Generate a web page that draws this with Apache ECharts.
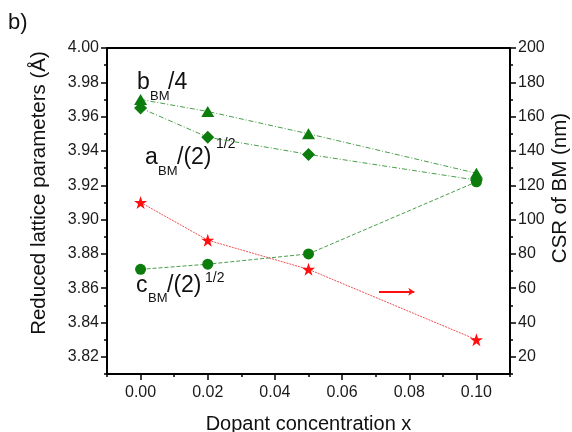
<!DOCTYPE html>
<html>
<head>
<meta charset="utf-8">
<script src="https://cdn.jsdelivr.net/npm/echarts@6/dist/echarts.min.js"></script>
<style>
  html, body { margin: 0; padding: 0; background: #fff; }
  #chart { width: 572px; height: 432px; }
</style>
</head>
<body>
<div id="chart"></div>
<script>
// Dopant concentration x
const dopant = [0.00, 0.02, 0.05, 0.10];
// Reduced lattice parameters (Å)
const bOver4 = [3.970, 3.963, 3.950, 3.927];
const aOverRoot2 = [3.965, 3.948, 3.938, 3.923];
const cOverRoot2 = [3.871, 3.874, 3.880, 3.922];
// Coherent scattering region of BM (nm)
const csr = [110, 88, 71, 30];

// Tick labels
const xLabels = [0.00, 0.02, 0.04, 0.06, 0.08, 0.10];
const leftLabels = [3.82, 3.84, 3.86, 3.88, 3.90, 3.92, 3.94, 3.96, 3.98, 4.00];
const rightLabels = [20, 40, 60, 80, 100, 120, 140, 160, 180, 200];

// Arrow pointing to the CSR axis (data coordinates of the right axis)
const arrowFrom = [0.071, 58];
const arrowTo = [0.0815, 58];

const pair = (xs, ys) => xs.map((x, i) => [x, ys[i]]);

const FONT = 'Liberation Sans, Arial, sans-serif';
const GREEN = '#0c7d0c';
const GREEN_LINE = '#4a9d4a';
const RED = '#ff1010';
const STAR = 'path://M50,0 L61.8,35.1 L97.6,35.1 L68.5,56.7 L79.4,91 L50,70 L20.6,91 L31.5,56.7 L2.4,35.1 L38.2,35.1 Z';

const axisLineStyle = { color: '#000', width: 2 };
const tickStyle = { color: '#000', width: 1.5 };
const labelStyle = { color: '#1a1a1a', fontFamily: FONT, fontSize: 16 };

const chart = echarts.init(document.getElementById('chart'), null, { renderer: 'canvas' });

function txt(x, y, s, size) {
  return {
    type: 'text', left: x, top: y, silent: true,
    style: { text: s, fontFamily: FONT, fontSize: size, fill: '#111' }
  };
}

function vtitle(cx, cy, s) {
  return {
    type: 'text', x: cx, y: cy, rotation: Math.PI / 2, silent: true,
    style: { text: s, fontFamily: FONT, fontSize: 20.5, fill: '#111', align: 'center', verticalAlign: 'middle' }
  };
}

chart.setOption({
  animation: false,
  grid: { left: 107, right: 62, top: 48, bottom: 58, containLabel: false, outerBoundsMode: 'none' },
  xAxis: [
    {
      type: 'value', position: 'bottom', min: -0.01, max: 0.11,
      name: 'Dopant concentration x', nameLocation: 'middle', nameGap: 40,
      nameTextStyle: { color: '#111', fontFamily: FONT, fontSize: 20 },
      axisLine: { onZero: false, lineStyle: axisLineStyle },
      axisTick: { show: true, inside: false, length: 6, lineStyle: tickStyle, customValues: xLabels },
      axisLabel: Object.assign({ margin: 11, customValues: xLabels, formatter: v => v.toFixed(2) }, labelStyle),
      splitLine: { show: false }
    },
    {
      // minor ticks every 0.01
      type: 'value', position: 'bottom', min: -0.01, max: 0.11, interval: 0.01,
      axisLine: { show: false, onZero: false },
      axisTick: { show: true, inside: false, length: 3, lineStyle: tickStyle },
      axisLabel: { show: false }, splitLine: { show: false }
    },
    {
      // top frame
      type: 'value', position: 'top', min: -0.01, max: 0.11,
      axisLine: { onZero: false, lineStyle: axisLineStyle },
      axisTick: { show: false }, axisLabel: { show: false }, splitLine: { show: false }
    }
  ],
  yAxis: [
    {
      type: 'value', position: 'left', min: 3.81, max: 4.00,
      axisLine: { onZero: false, lineStyle: axisLineStyle },
      axisTick: { show: true, inside: false, length: 6, lineStyle: tickStyle, customValues: leftLabels },
      axisLabel: Object.assign({ margin: 8, customValues: leftLabels, formatter: v => v.toFixed(2) }, labelStyle),
      splitLine: { show: false }
    },
    {
      type: 'value', position: 'right', min: 10, max: 200,
      axisLine: { onZero: false, lineStyle: axisLineStyle },
      axisTick: { show: true, inside: false, length: 6, lineStyle: tickStyle, customValues: rightLabels },
      axisLabel: Object.assign({ margin: 8, customValues: rightLabels }, labelStyle),
      splitLine: { show: false }
    },
    {
      // minor ticks, left
      type: 'value', position: 'left', min: 3.81, max: 4.00, interval: 0.01,
      axisLine: { show: false, onZero: false },
      axisTick: { show: true, inside: false, length: 3, lineStyle: tickStyle },
      axisLabel: { show: false }, splitLine: { show: false }
    },
    {
      // minor ticks, right
      type: 'value', position: 'right', min: 10, max: 200, interval: 10,
      axisLine: { show: false, onZero: false },
      axisTick: { show: true, inside: false, length: 3, lineStyle: tickStyle },
      axisLabel: { show: false }, splitLine: { show: false }
    }
  ],
  series: [
    {
      name: 'b/4', type: 'line', xAxisIndex: 0, yAxisIndex: 0,
      data: pair(dopant, bOver4),
      symbol: 'triangle', symbolSize: [13, 11],
      itemStyle: { color: GREEN },
      lineStyle: { color: GREEN_LINE, width: 1, type: [5, 2, 1, 2] },
      z: 3
    },
    {
      name: 'a/sqrt2', type: 'line', xAxisIndex: 0, yAxisIndex: 0,
      data: pair(dopant, aOverRoot2),
      symbol: 'diamond', symbolSize: [13, 13],
      itemStyle: { color: GREEN },
      lineStyle: { color: GREEN_LINE, width: 1, type: [5, 2, 1, 2] },
      z: 3
    },
    {
      name: 'c/sqrt2', type: 'line', xAxisIndex: 0, yAxisIndex: 0,
      data: pair(dopant, cOverRoot2),
      symbol: 'circle', symbolSize: 11,
      itemStyle: { color: GREEN },
      lineStyle: { color: GREEN_LINE, width: 1, type: [4, 2] },
      z: 3
    },
    {
      name: 'CSR', type: 'line', xAxisIndex: 0, yAxisIndex: 1,
      data: pair(dopant, csr),
      symbol: STAR, symbolSize: 13,
      itemStyle: { color: RED },
      lineStyle: { color: '#f05050', width: 1, type: [2, 1] },
      z: 3,
      markLine: {
        silent: true, animation: false,
        symbol: ['none', 'arrow'], symbolSize: [6, 6],
        label: { show: false },
        lineStyle: { color: RED, width: 2, type: 'solid' },
        data: [[{ coord: arrowFrom }, { coord: arrowTo }]]
      }
    }
  ],
  graphic: [
    txt(8, 12, 'b)', 22),
    // axis titles
    vtitle(39, 193, 'Reduced lattice parameters (Å)'),
    vtitle(560, 188, 'CSR of BM (nm)'),
    // b_BM/4
    txt(137, 71, 'b', 23), txt(150, 89.5, 'BM', 13), txt(168, 71, '/4', 23),
    // a_BM/(2)^1/2
    txt(145, 146, 'a', 23), txt(158, 164.5, 'BM', 13), txt(177, 146, '/(2)', 23), txt(216, 137, '1/2', 14),
    // c_BM/(2)^1/2
    txt(136, 274, 'c', 23), txt(148, 291.5, 'BM', 13), txt(167, 274, '/(2)', 23), txt(205, 271, '1/2', 14)
  ]
});
</script>
</body>
</html>
